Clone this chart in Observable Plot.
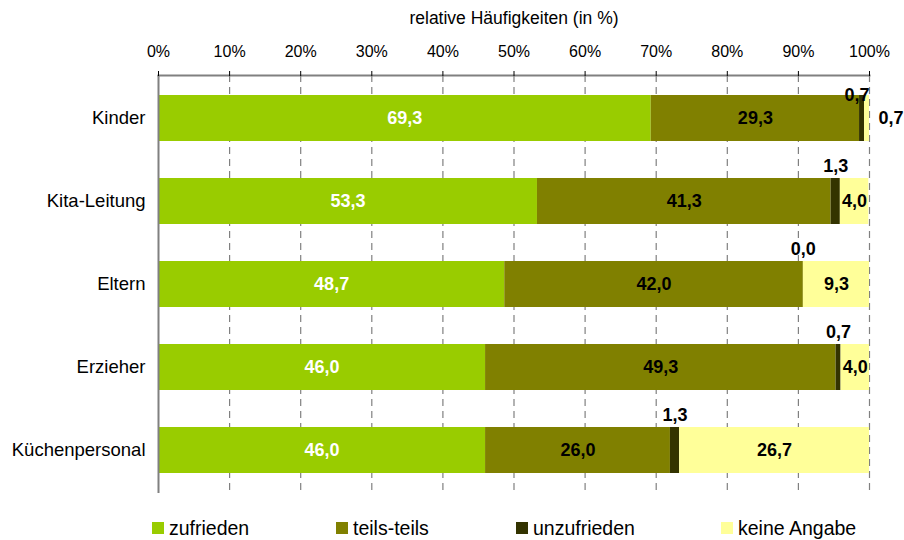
<!DOCTYPE html>
<html>
<head>
<meta charset="utf-8">
<script src="https://cdn.jsdelivr.net/npm/d3@7"></script>
<script src="https://cdn.jsdelivr.net/npm/@observablehq/plot@0.6"></script>
<style>
  body { margin: 0; background: #fff; font-family: "Liberation Sans", Arial, sans-serif; }
  #wrap { width: 904px; }
  #legend { position: relative; width: 904px; height: 35px; }
  .item { position: absolute; top: 12px; height: 22px; line-height: 22px; font-size: 19.5px; color: #000; white-space: nowrap; }
  .sw { position: absolute; top: 5px; width: 12px; height: 12px; }
  .lbl { position: absolute; left: 17px; top: 0; }
</style>
</head>
<body>
<div id="wrap"></div>
<script>
const categories = ["Kinder", "Kita-Leitung", "Eltern", "Erzieher", "Küchenpersonal"];
const seriesNames = ["zufrieden", "teils-teils", "unzufrieden", "keine Angabe"];
const zufrieden   = [69.3, 53.3, 48.7, 46.0, 46.0];
const teilsTeils  = [29.3, 41.3, 42.0, 49.3, 26.0];
const unzufrieden = [0.7, 1.3, 0.0, 0.7, 1.3];
const keineAngabe = [0.7, 4.0, 9.3, 4.0, 26.7];
const seriesColors = ["#99CC00", "#808000", "#333300", "#FFFF99"];
const xTicks = [0, 10, 20, 30, 40, 50, 60, 70, 80, 90, 100];
const axisTitle = "relative Häufigkeiten (in %)";

const seriesValues = [zufrieden, teilsTeils, unzufrieden, keineAngabe];
const fmt = v => v.toFixed(1).replace(".", ",");

const rows = [];
categories.forEach((cat, i) => {
  let acc = 0;
  seriesNames.forEach((s, j) => {
    const v = seriesValues[j][i];
    rows.push({cat, series: s, value: v, x1: acc, x2: acc + v, mid: acc + v / 2, label: fmt(v)});
    acc += v;
  });
});

const font = "'Liberation Sans', Arial, sans-serif";

const chart = Plot.plot({
  width: 904,
  height: 505,
  marginTop: 75,
  marginBottom: 12,
  marginLeft: 158,
  marginRight: 35,
  style: {fontFamily: font, background: "#fff", color: "#000"},
  x: {domain: [0, 100]},
  y: {domain: categories, paddingInner: 0.44, paddingOuter: 0.22},
  color: {domain: seriesNames, range: seriesColors},
  marks: [
    Plot.ruleX(xTicks.filter(d => d > 0), {stroke: "#808080", strokeWidth: 1.2, strokeDasharray: "7,5"}),
    Plot.barX(rows, {x1: "x1", x2: "x2", y: "cat", fill: "series"}),
    Plot.ruleX([0], {stroke: "#808080", strokeWidth: 2}),
    Plot.frame({anchor: "top", stroke: "#808080", strokeWidth: 2}),
    Plot.axisX({anchor: "top", ticks: xTicks, tickSize: 5, tickPadding: 14, tickFormat: d => d + "%", fontSize: 16, label: null}),
    Plot.axisY({tickSize: 0, tickPadding: 13, fontSize: 18.5, label: null}),
    Plot.text([axisTitle], {frameAnchor: "top", dy: -57, fontSize: 17.5, lineAnchor: "middle"}),
    Plot.text(rows.filter(d => d.series === "zufrieden"), {x: "mid", y: "cat", text: "label", fill: "white", fontWeight: "bold", fontSize: 18}),
    Plot.text(rows.filter(d => d.series === "teils-teils"), {x: "mid", y: "cat", text: "label", fill: "black", fontWeight: "bold", fontSize: 18}),
    Plot.text(rows.filter(d => d.series === "unzufrieden" && d.cat === categories[0]), {x: "mid", y: "cat", text: "label", fill: "black", fontWeight: "bold", fontSize: 18, dy: -23, dx: -5}),
    Plot.text(rows.filter(d => d.series === "unzufrieden" && d.cat !== categories[0]), {x: "mid", y: "cat", text: "label", fill: "black", fontWeight: "bold", fontSize: 18, dy: -35}),
    Plot.text(rows.filter(d => d.series === "keine Angabe" && d.value >= 2), {x: "mid", y: "cat", text: "label", fill: "black", fontWeight: "bold", fontSize: 18}),
    Plot.text(rows.filter(d => d.series === "keine Angabe" && d.value < 2), {x: "x2", y: "cat", text: "label", fill: "black", fontWeight: "bold", fontSize: 18, textAnchor: "start", dx: 9})
  ]
});

const wrap = document.getElementById("wrap");
wrap.appendChild(chart);

const legend = document.createElement("div");
legend.id = "legend";
const legendLeft = [152, 336, 516, 721];
seriesNames.forEach((s, i) => {
  const item = document.createElement("div");
  item.className = "item";
  item.style.left = legendLeft[i] + "px";
  const sw = document.createElement("span");
  sw.className = "sw";
  sw.style.background = seriesColors[i];
  const lb = document.createElement("span");
  lb.className = "lbl";
  lb.textContent = s;
  item.appendChild(sw);
  item.appendChild(lb);
  legend.appendChild(item);
});
wrap.appendChild(legend);
</script>
</body>
</html>
